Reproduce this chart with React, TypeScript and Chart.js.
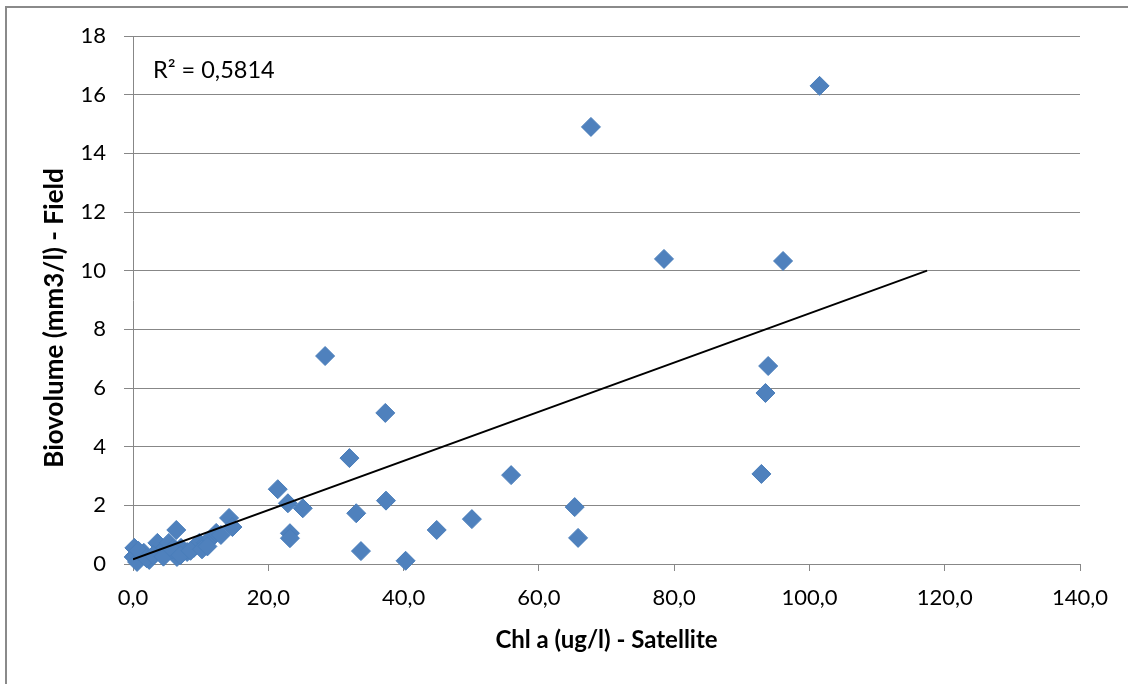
import React, { useEffect, useRef } from "react";
import { Chart, registerables } from "chart.js";

Chart.register(...registerables);

// Chl a (ug/l) - Satellite
const chlA: number[] = [
  101.5, 67.7, 78.5, 96.1, 28.4, 93.9, 93.5, 37.3, 32.0, 92.9,
  55.9, 21.4, 37.4, 22.9, 25.1, 65.3, 33.0, 50.1, 14.2, 14.7,
  44.9, 23.2, 23.2, 65.8, 33.7, 40.3,
  0.2, 0.4, 0.1, 0.6, 1.6, 2.4, 3.6, 4.1, 5.3, 6.4,
  6.5, 7.1, 8.0, 9.0, 9.8, 10.8, 11.6, 12.3, 13.0, 0.8,
  2.0, 3.0, 4.5, 5.8, 7.0, 8.5, 10.2, 11.0,
];

// Biovolume (mm3/l) - Field
const biovolume: number[] = [
  16.3, 14.9, 10.4, 10.33, 7.09, 6.75, 5.83, 5.15, 3.61, 3.07,
  3.03, 2.55, 2.16, 2.07, 1.9, 1.94, 1.73, 1.53, 1.57, 1.26,
  1.16, 1.05, 0.88, 0.89, 0.44, 0.11,
  0.55, 0.31, 0.24, 0.07, 0.38, 0.14, 0.72, 0.41, 0.72, 1.16,
  0.24, 0.55, 0.41, 0.55, 0.72, 0.72, 0.89, 1.06, 0.99, 0.45,
  0.2, 0.3, 0.25, 0.5, 0.3, 0.45, 0.5, 0.6,
];

// Linear trendline
const trendX: number[] = [0, 117.4];
const trendY: number[] = [0.16, 10.0];
const rSquaredLabel = "R² = 0,5814";

const xTicks = { min: 0, max: 140, step: 20 };
const yTicks = { min: 0, max: 18, step: 2 };

const xTitle = "Chl a (ug/l) - Satellite";
const yTitle = "Biovolume (mm3/l) - Field";

const FONT = "Lato, 'Open Sans', sans-serif";
const GRID = "#878787";

export default function App() {
  const ref = useRef<HTMLCanvasElement | null>(null);

  useEffect(() => {
    document.body.style.margin = "0";
    const canvas = ref.current;
    if (!canvas) return;

    const framePlugin = {
      id: "frame",
      beforeDraw(chart: any) {
        const ctx = chart.ctx;
        ctx.save();
        ctx.fillStyle = "#ffffff";
        ctx.fillRect(0, 0, chart.width, chart.height);
        ctx.strokeStyle = "#8a8a8a";
        ctx.lineWidth = 2;
        ctx.strokeRect(6, 7, chart.width + 100, chart.height + 100);
        ctx.restore();
      },
      afterDraw(chart: any) {
        const ctx = chart.ctx;
        ctx.save();
        ctx.fillStyle = "#000000";
        ctx.font = `23.5px ${FONT}`;
        ctx.textAlign = "left";
        ctx.textBaseline = "middle";
        ctx.fillText(rSquaredLabel, 153, 70);
        // y-axis title
        ctx.font = `bold 26px ${FONT}`;
        ctx.translate(55, 318);
        ctx.rotate(-Math.PI / 2);
        ctx.textAlign = "center";
        ctx.fillText(yTitle, 0, 0);
        ctx.restore();
      },
    };

    const points = chlA.map((x, i) => ({ x, y: biovolume[i] }));
    const trend = trendX.map((x, i) => ({ x, y: trendY[i] }));
    const fmt = (v: number) => v.toFixed(1).replace(".", ",");

    const chart = new Chart(canvas, {
      type: "scatter",
      data: {
        datasets: [
          {
            type: "line",
            label: "Trend",
            data: trend,
            borderColor: "#000000",
            borderWidth: 1.8,
            pointRadius: 0,
            fill: false,
            order: 0,
          } as any,
          {
            label: "Biovolume",
            data: points,
            pointStyle: "rectRot",
            pointRadius: 9.5,
            backgroundColor: "#4F81BD",
            borderColor: "#4A7EBB",
            borderWidth: 1,
            clip: false,
            order: 1,
          } as any,
        ],
      },
      options: {
        animation: false,
        responsive: false,
        layout: { padding: { left: 0, top: 36, right: 48, bottom: 0 } },
        plugins: {
          legend: { display: false },
          tooltip: { enabled: false },
        },
        scales: {
          x: {
            type: "linear",
            min: xTicks.min,
            max: xTicks.max,
            afterFit(scale: any) {
              scale.height = 120;
            },
            ticks: {
              stepSize: xTicks.step,
              callback: (v: any) => fmt(Number(v)),
              font: { family: FONT, size: 22 },
              color: "#000000",
              padding: 14,
              maxRotation: 0,
            },
            grid: {
              drawOnChartArea: false,
              drawTicks: true,
              tickLength: 7,
              color: GRID,
              lineWidth: 1,
            },
            border: { color: GRID, width: 1 },
            title: {
              display: true,
              text: xTitle,
              font: { family: FONT, size: 24, weight: "bold" },
              color: "#000000",
              padding: { top: 0, bottom: 29 },
            },
          },
          y: {
            type: "linear",
            min: yTicks.min,
            max: yTicks.max,
            afterFit(scale: any) {
              scale.width = 133;
            },
            ticks: {
              stepSize: yTicks.step,
              font: { family: FONT, size: 22 },
              color: "#000000",
              padding: 18,
            },
            grid: {
              drawTicks: true,
              tickLength: 9,
              color: GRID,
              lineWidth: 1,
            },
            border: { color: GRID, width: 1 },
          },
        },
      } as any,
      plugins: [framePlugin],
    });

    return () => chart.destroy();
  }, []);

  return (
    <div style={{ position: "absolute", left: 0, top: 0, width: 1128, height: 684 }}>
      <canvas ref={ref} width={1128} height={684} style={{ display: "block" }} />
    </div>
  );
}
